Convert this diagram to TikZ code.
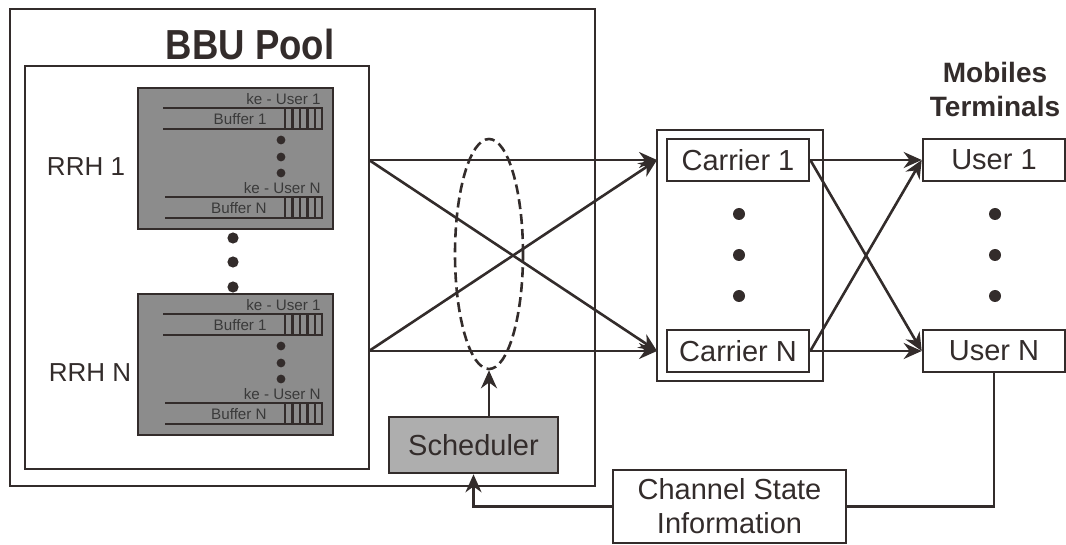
\documentclass[tikz,border=0pt]{standalone}
\usepackage{fontspec}
\setmainfont{Liberation Sans}
\usetikzlibrary{arrows.meta,shapes.geometric}
\definecolor{ink}{HTML}{332C2B}
\definecolor{rrhgray}{HTML}{8C8C8C}
\definecolor{schedgray}{HTML}{AEAEAE}
\definecolor{rrhtext}{HTML}{3A3A3A}
% one buffer row: #1 = y of upper line, #2 = left x, #3 = index
\newcommand\bufrow[3]{%
  \draw[line width=1.1pt] (#2,#1)--(322,#1)--(322,#1+21)--(#2,#1+21);
  \foreach \bx in {285,292.5,300,307.5,315} \draw[line width=1.1pt] (\bx,#1)--(\bx,#1+21);
  \node[anchor=east,inner sep=0pt,smalltxt] at (268,#1+11) {Buffer #3};
  \node[anchor=south east,inner sep=0pt,smalltxt] at (322,#1-2) {ke - User #3};
}
\begin{document}
\begin{tikzpicture}[x=0.5pt,y=-0.5pt,color=ink,line width=1.3pt,
  >={Stealth[length=9pt,width=8pt]},
  box/.style={draw,rectangle,inner sep=0pt,minimum width=71pt,minimum height=21pt,font=\fontsize{14.5}{17}\selectfont},
  smalltxt/.style={text=rrhtext,font=\fontsize{7.6}{8}\selectfont}]
  \useasboundingbox (0,0) rectangle (1066,545);
  % BBU pool
  \draw (10,9) rectangle (595,486);
  \node[font=\bfseries\fontsize{21}{24}\selectfont] (title) at (250,44) {\scalebox{0.87}[1]{BBU Pool}};
  \draw (25,66) rectangle (369,469);
  \foreach \dy in {0,206} {
    \begin{scope}[shift={(0,\dy)}]
      \draw[fill=rrhgray] (138,88) rectangle (333,229);
      \bufrow{108}{163}{1}
      \foreach \py in {140,157,173} \fill (281,\py) circle (2.2pt);
      \bufrow{197}{165}{N}
    \end{scope}
  }
  \node[font=\fontsize{13}{15}\selectfont] (rrh1) at (86,167) {RRH 1};
  \node[font=\fontsize{13}{15}\selectfont] (rrhN) at (90,373) {RRH N};
  \foreach \py in {238,262,287} \fill (233,\py) circle (2.8pt);
  \coordinate (out1) at (369,160);
  \coordinate (outN) at (369,351);
  % scheduler and selection
  \node[draw,dashed,dash pattern=on 5pt off 2.5pt,ellipse,minimum width=34pt,minimum height=115pt] (sel) at (489,254) {};
  \node[box,fill=schedgray,minimum width=84.5pt,minimum height=28pt] (sched) at (473.5,445) {Scheduler};
  \draw[->] (sel.south |- sched.north) -- (sel.south);
  % carriers
  \draw (657,130) rectangle (823,381);
  \node[box] (car1) at (738,160) {Carrier 1};
  \node[box] (carN) at (738,351) {Carrier N};
  \foreach \py in {214,255,296} \fill (739,\py) circle (3pt);
  \coordinate (in1) at (657,160);
  \coordinate (inN) at (657,351);
  % mobiles
  \node[font=\bfseries\fontsize{14}{16}\selectfont,align=center] (mt) at (995,89) {Mobiles\\[1pt]Terminals};
  \node[box] (user1) at (994,160) {User 1};
  \node[box] (userN) at (994,351) {User N};
  \foreach \py in {214,255,296} \fill (995,\py) circle (3pt);
  \node[box,minimum width=116.5pt,minimum height=36.5pt,align=center] (csi) at (729.5,506.5) {Channel State\\Information};
  % links
  \draw[->] (out1) -- (in1);
  \draw[->] (out1) -- (inN);
  \draw[->] (outN) -- (in1);
  \draw[->] (outN) -- (inN);
  \draw[->] (car1.east) -- (user1.west);
  \draw[->] (car1.east) -- (userN.west);
  \draw[->] (carN.east) -- (user1.west);
  \draw[->] (carN.east) -- (userN.west);
  \draw (userN.south) |- (csi.east);
  \draw[->] (csi.west) -| (sched.south);
\end{tikzpicture}
\end{document}
